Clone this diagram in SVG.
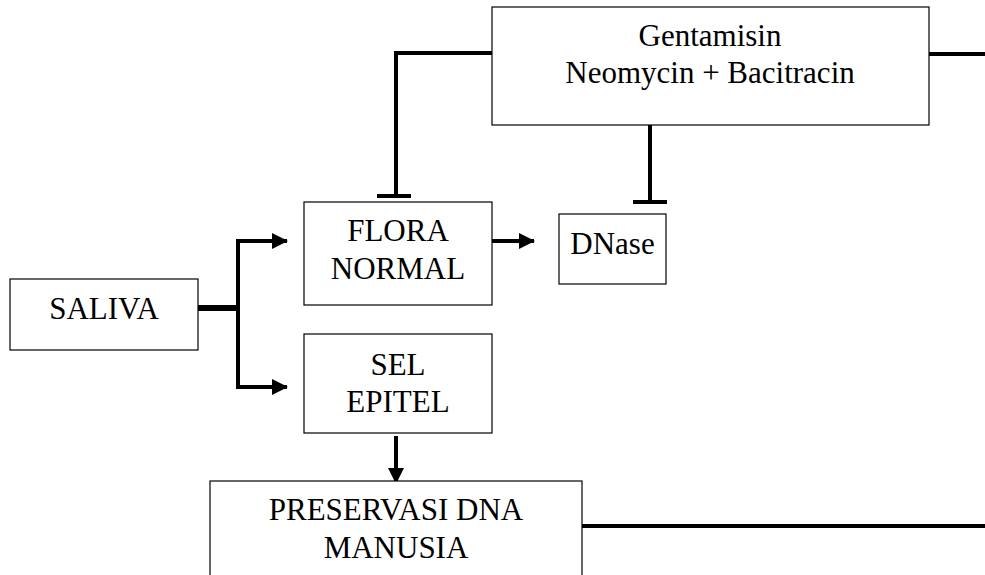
<svg xmlns="http://www.w3.org/2000/svg" width="985" height="575" viewBox="0 0 985 575">
<defs>
<style>
.box{fill:#fff;stroke:#000;stroke-width:1.2}
.t{font-family:'Liberation Serif','DejaVu Serif',serif;font-size:31px;fill:#000;text-anchor:middle}
.c{fill:none;stroke:#000;stroke-width:4}
</style>
<marker id="ah" viewBox="0 0 16 16" refX="15" refY="8" markerWidth="16" markerHeight="16" markerUnits="userSpaceOnUse" orient="auto">
<path d="M0,0 L16,8 L0,16 Z" fill="#000"/>
</marker>
</defs>
<g id="connectors">
<line x1="198" y1="308" x2="238" y2="308" stroke="#000" stroke-width="6"/>
<path class="c" d="M238,308 V241 H287" marker-end="url(#ah)"/>
<path class="c" d="M238,308 V387 H287" marker-end="url(#ah)"/>
<line class="c" x1="492" y1="241" x2="534" y2="241" marker-end="url(#ah)"/>
<path class="c" d="M492,53 H396 V196"/>
<line class="c" x1="377" y1="196" x2="411" y2="196"/>
<line class="c" x1="650" y1="123" x2="650" y2="202"/>
<line class="c" x1="633" y1="202" x2="667" y2="202"/>
<line class="c" x1="929" y1="54" x2="985" y2="54"/>
<line class="c" x1="396" y1="436" x2="396" y2="483" stroke-width="3" marker-end="url(#ah)"/>
<line class="c" x1="582" y1="526" x2="985" y2="526"/>
</g>
<g id="saliva">
<rect class="box" x="10" y="279" width="188" height="71"/>
<text class="t" font-family="Liberation Serif, serif" x="104" y="319">SALIVA</text>
</g>
<g id="gentamisin">
<rect class="box" x="492" y="7" width="437" height="118"/>
<text class="t" font-family="Liberation Serif, serif" x="710" y="46">Gentamisin</text>
<text class="t" font-family="Liberation Serif, serif" x="710" y="83">Neomycin + Bacitracin</text>
</g>
<g id="flora-normal">
<rect class="box" x="304" y="202" width="188" height="103"/>
<text class="t" font-family="Liberation Serif, serif" x="398" y="241">FLORA</text>
<text class="t" font-family="Liberation Serif, serif" x="398" y="279">NORMAL</text>
</g>
<g id="dnase">
<rect class="box" x="559" y="214" width="107" height="70"/>
<text class="t" font-family="Liberation Serif, serif" x="612.5" y="254">DNase</text>
</g>
<g id="sel-epitel">
<rect class="box" x="304" y="334" width="188" height="99"/>
<text class="t" font-family="Liberation Serif, serif" x="398" y="375">SEL</text>
<text class="t" font-family="Liberation Serif, serif" x="398" y="412">EPITEL</text>
</g>
<g id="preservasi">
<rect class="box" x="210" y="481" width="372" height="100"/>
<text class="t" font-family="Liberation Serif, serif" x="396" y="520">PRESERVASI DNA</text>
<text class="t" font-family="Liberation Serif, serif" x="396" y="558">MANUSIA</text>
</g>
</svg>
